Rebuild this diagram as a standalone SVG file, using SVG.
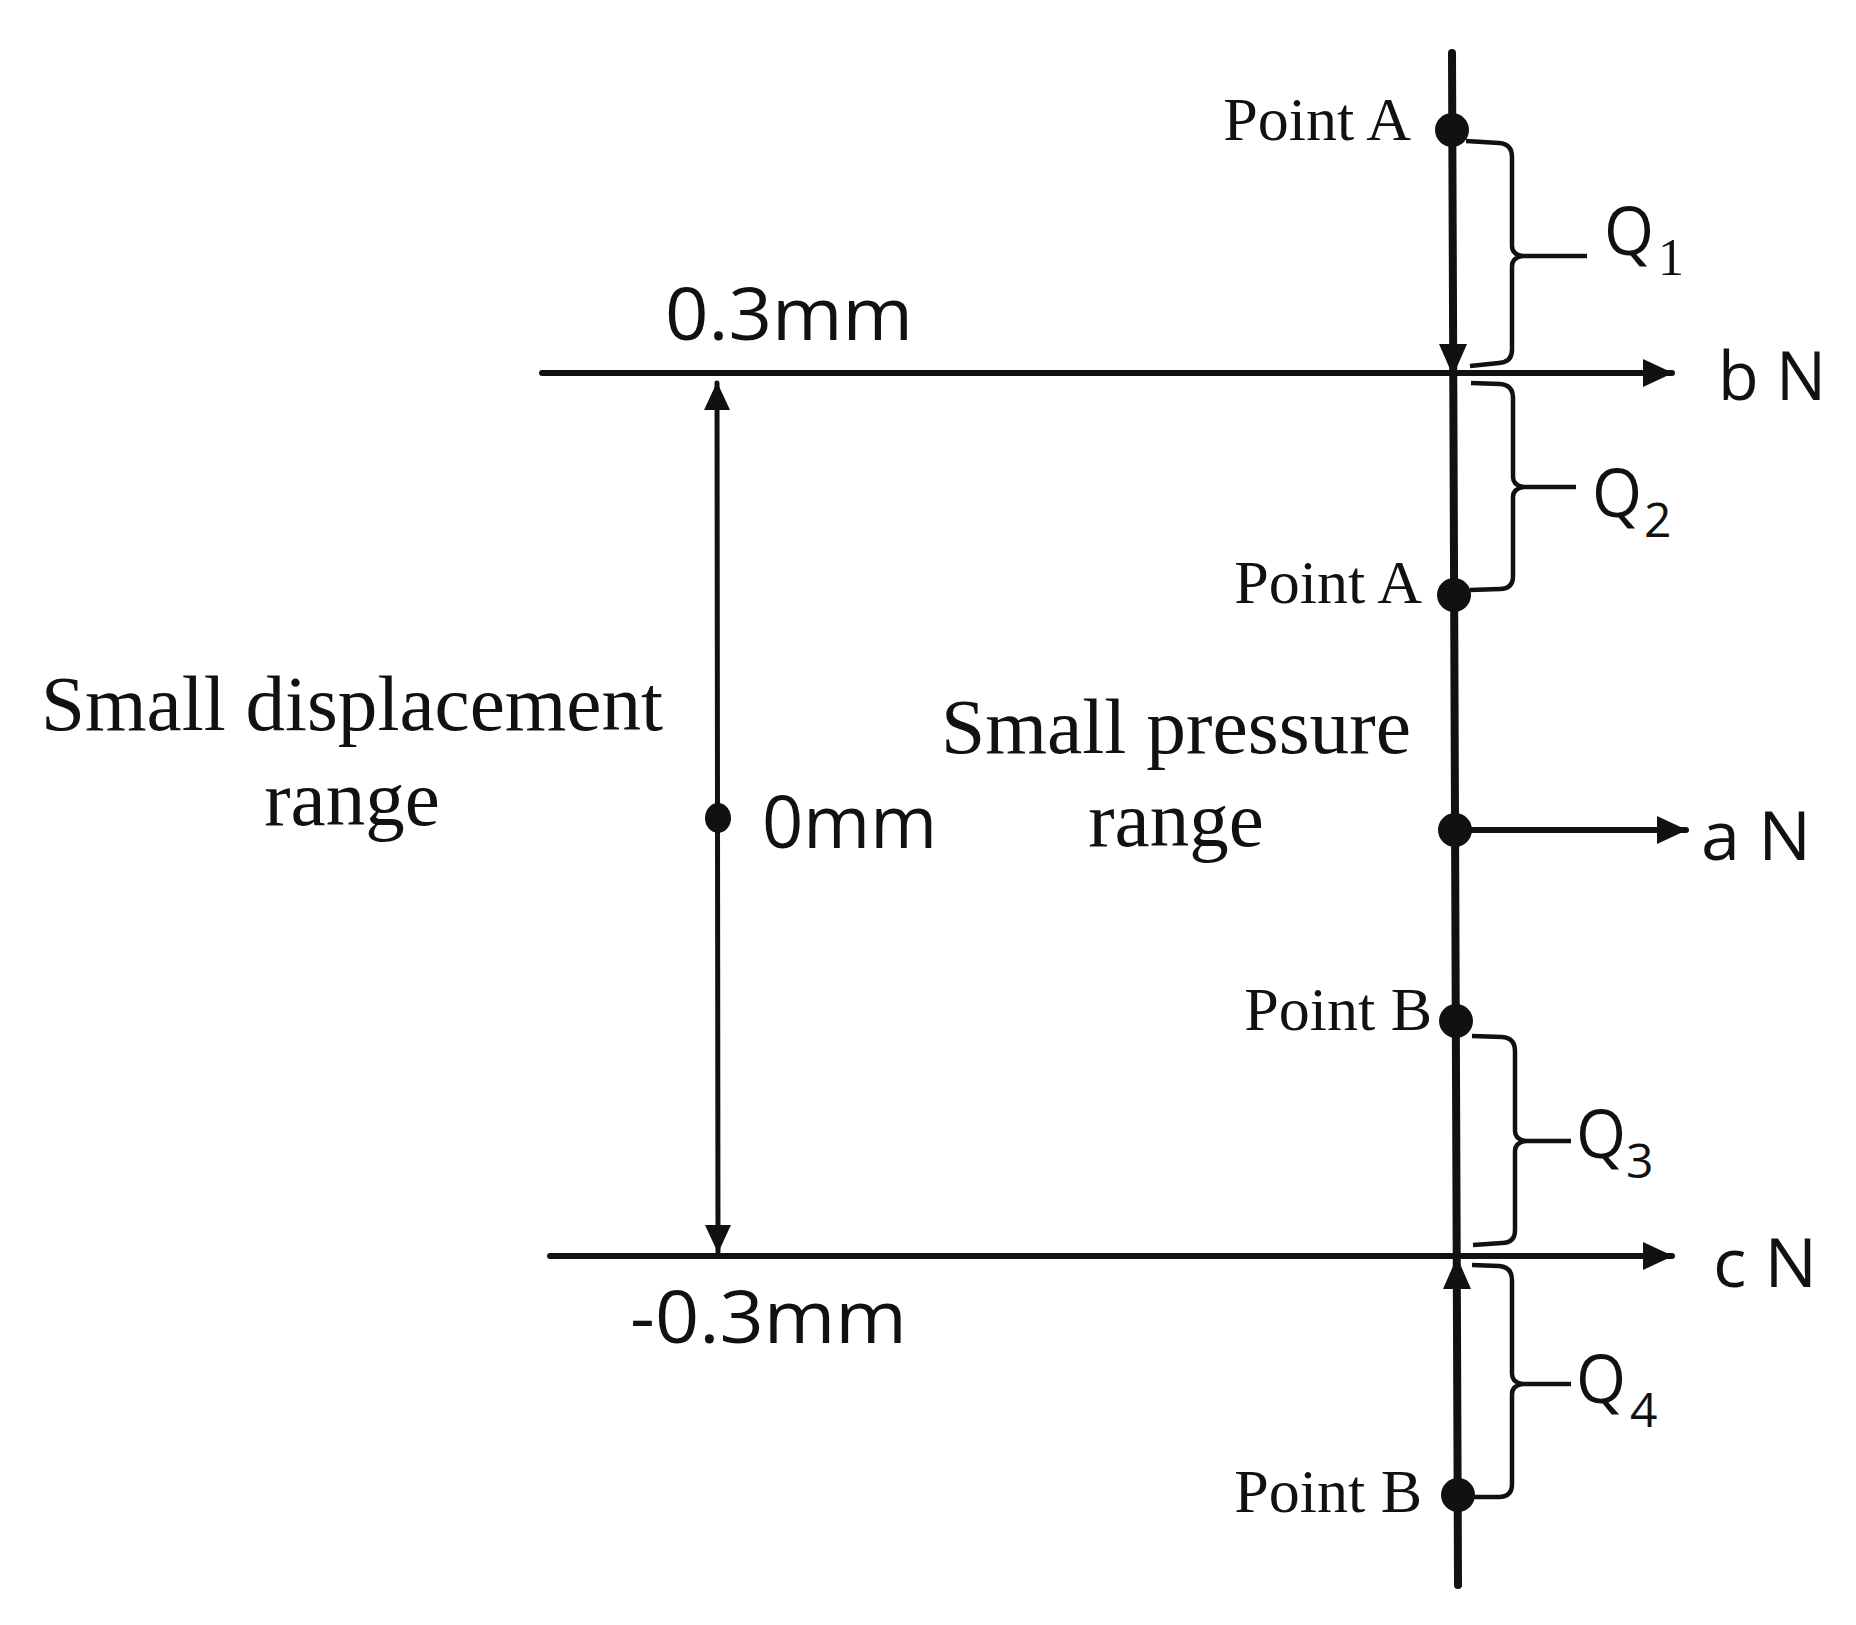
<svg xmlns="http://www.w3.org/2000/svg" width="1856" height="1625" viewBox="0 0 1856 1625">
<defs>
<style>
.ser{font-family:"Liberation Serif","Times New Roman",serif;fill:#111}
.san{font-family:"Open Sans","Liberation Sans",sans-serif;fill:#111}
.ln{stroke:#111;fill:none;stroke-linecap:round}
.br{stroke:#111;fill:none;stroke-width:4.5;stroke-linejoin:round}
.dot{fill:#111}
</style>
<marker id="ah" viewBox="0 0 30 30" refX="29" refY="15" markerWidth="30" markerHeight="30" markerUnits="userSpaceOnUse" orient="auto">
<path d="M0,1 L30,15 L0,29 Z" fill="#111"/>
</marker>
<marker id="ah2" viewBox="0 0 28 28" refX="27" refY="14" markerWidth="28" markerHeight="28" markerUnits="userSpaceOnUse" orient="auto-start-reverse">
<path d="M0,1 L28,14 L0,27 Z" fill="#111"/>
</marker>
</defs>
<rect width="1856" height="1625" fill="#fff"/>

<g id="connectors">
<line class="ln" x1="1452" y1="53" x2="1458" y2="1585" stroke-width="8"/>
<line class="ln" x1="542" y1="373" x2="1672" y2="373" stroke-width="6" marker-end="url(#ah)"/>
<line class="ln" x1="550" y1="1256" x2="1672" y2="1256" stroke-width="6" marker-end="url(#ah)"/>
<line class="ln" x1="1455" y1="830" x2="1686" y2="830" stroke-width="6" marker-end="url(#ah)"/>
<line class="ln" x1="717" y1="383" x2="718" y2="1252" stroke-width="5" marker-start="url(#ah2)" marker-end="url(#ah2)"/>
<path d="M1439,344 L1467,344 L1453,376 Z" fill="#111"/>
<path d="M1443,1289 L1471,1289 L1457,1257 Z" fill="#111"/>
<path class="br" d="M1466,141 L1499,143 Q1512,144 1512,157 L1512,246 Q1512,254 1522,256 Q1512,258 1512,266 L1512,350 Q1512,362 1499,363 L1470,366"/>
<line class="br" x1="1522" y1="256" x2="1587" y2="256"/>
<path class="br" d="M1471,383 L1500,384 Q1513,385 1513,398 L1513,477 Q1513,485 1523,487 Q1513,489 1513,497 L1513,576 Q1513,589 1500,589 L1470,590"/>
<line class="br" x1="1523" y1="487" x2="1576" y2="487"/>
<path class="br" d="M1472,1036 L1502,1037 Q1515,1038 1515,1051 L1515,1131 Q1515,1139 1525,1141 Q1515,1143 1515,1151 L1515,1230 Q1515,1243 1502,1243 L1473,1245"/>
<line class="br" x1="1525" y1="1141" x2="1571" y2="1141"/>
<path class="br" d="M1472,1265 L1499,1266 Q1512,1267 1512,1280 L1512,1374 Q1512,1382 1522,1384 Q1512,1386 1512,1394 L1512,1484 Q1512,1497 1499,1497 L1474,1497"/>
<line class="br" x1="1522" y1="1384" x2="1571" y2="1384"/>
</g>

<g id="pointA1">
<circle class="dot" cx="1452" cy="130" r="17"/>
<text class="ser" x="1411" y="140" font-size="62" text-anchor="end">Point A</text>
</g>
<g id="pointA2">
<circle class="dot" cx="1454" cy="595" r="17"/>
<text class="ser" x="1422" y="603" font-size="62" text-anchor="end">Point A</text>
</g>
<g id="pointB1">
<circle class="dot" cx="1456" cy="1021" r="17"/>
<text class="ser" x="1432" y="1030" font-size="62" text-anchor="end">Point B</text>
</g>
<g id="pointB2">
<circle class="dot" cx="1458" cy="1495" r="17"/>
<text class="ser" x="1422" y="1512" font-size="62" text-anchor="end">Point B</text>
</g>
<g id="pointAN">
<circle class="dot" cx="1455" cy="830" r="17"/>
<text class="san" x="1701" y="860" font-size="68" textLength="110" lengthAdjust="spacingAndGlyphs">a N</text>
</g>
<g id="bN">
<text class="san" x="1718" y="400" font-size="68" textLength="108" lengthAdjust="spacingAndGlyphs">b N</text>
</g>
<g id="cN">
<text class="san" x="1713" y="1287" font-size="68" textLength="104" lengthAdjust="spacingAndGlyphs">c N</text>
</g>
<g id="Q1">
<text class="san" x="1604" y="255" font-size="68" textLength="50" lengthAdjust="spacingAndGlyphs">Q</text>
<text class="ser" x="1658" y="275" font-size="52">1</text>
</g>
<g id="Q2">
<text class="san" x="1592" y="517" font-size="68" textLength="50" lengthAdjust="spacingAndGlyphs">Q</text>
<text class="san" x="1644" y="537" font-size="48">2</text>
</g>
<g id="Q3">
<text class="san" x="1576" y="1158" font-size="68" textLength="50" lengthAdjust="spacingAndGlyphs">Q</text>
<text class="san" x="1626" y="1178" font-size="48">3</text>
</g>
<g id="Q4">
<text class="san" x="1576" y="1403" font-size="68" textLength="50" lengthAdjust="spacingAndGlyphs">Q</text>
<text class="san" x="1630" y="1427" font-size="48">4</text>
</g>
<g id="zero">
<ellipse class="dot" cx="718" cy="818" rx="13" ry="15"/>
<text class="san" x="762" y="848" font-size="74" textLength="175" lengthAdjust="spacingAndGlyphs">0mm</text>
</g>
<g id="top-limit">
<text class="san" x="665" y="340" font-size="73" textLength="248" lengthAdjust="spacingAndGlyphs">0.3mm</text>
</g>
<g id="bottom-limit">
<text class="san" x="630" y="1343" font-size="73" textLength="277" lengthAdjust="spacingAndGlyphs">-0.3mm</text>
</g>
<g id="displacement-label">
<text class="ser" x="41" y="730" font-size="79" textLength="622" lengthAdjust="spacingAndGlyphs">Small displacement</text>
<text class="ser" x="352" y="825" font-size="79" text-anchor="middle">range</text>
</g>
<g id="pressure-label">
<text class="ser" x="941" y="753" font-size="79" textLength="470" lengthAdjust="spacingAndGlyphs">Small pressure</text>
<text class="ser" x="1176" y="846" font-size="79" text-anchor="middle">range</text>
</g>
</svg>
